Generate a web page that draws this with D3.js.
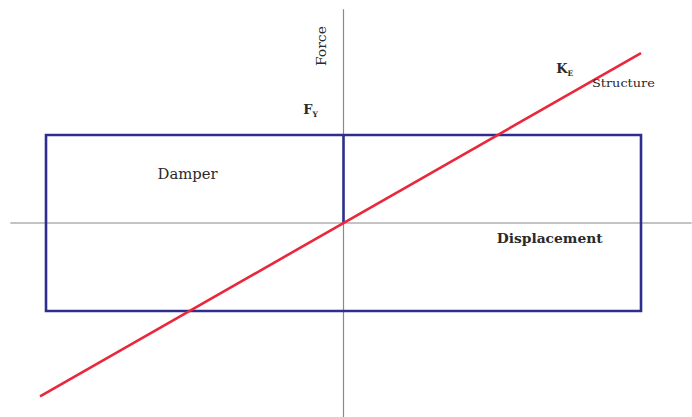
<!DOCTYPE html>
<html><head><meta charset="utf-8">
<script src="https://cdn.jsdelivr.net/npm/d3@7"></script>
<style>body{margin:0;background:#fff}svg{display:block}text{font-family:"DejaVu Serif","Liberation Serif",serif;fill:#2a2a2a}</style>
</head><body><svg id="c" width="692" height="417"></svg>
<script>
// Data (normalized units: displacement / yield displacement, force / Fy)
const damperLoop = [[-1,1],[1,1],[1,-1],[-1,-1]];        // rigid-plastic damper loop corners
const damperRise = [[0,0],[0,1]];                          // elastic rise at origin
const structureLine = [[-1.02,-1.97],[1.0,1.93]];          // structure stiffness K_E
const axisX = [-1.12, 1.17];
const axisY = [-2.22, 2.43];

const svg = d3.select("#c");
const x = d3.scaleLinear().domain([-1,1]).range([46,641]);
const y = d3.scaleLinear().domain([-1,1]).range([311,135]);
const line = d3.line().x(d=>x(d[0])).y(d=>y(d[1]));

// axes
svg.append("line").attr("x1",x(axisX[0])).attr("x2",x(axisX[1])).attr("y1",y(0)).attr("y2",y(0))
  .attr("stroke","#8a8a8a").attr("stroke-width",1.2);
svg.append("line").attr("x1",x(0)).attr("x2",x(0)).attr("y1",y(axisY[1])).attr("y2",y(axisY[0]))
  .attr("stroke","#8a8a8a").attr("stroke-width",1.2);

// damper loop
svg.append("path").attr("d",line(damperLoop)+"Z").attr("fill","none")
  .attr("stroke","#2e2e8c").attr("stroke-width",2.6);
svg.append("path").attr("d",line(damperRise)).attr("fill","none")
  .attr("stroke","#2e2e8c").attr("stroke-width",2.6);

// structure line
svg.append("path").attr("d",line(structureLine)).attr("fill","none")
  .attr("stroke","#e8283c").attr("stroke-width",2.6);

// labels
svg.append("text").attr("transform",`translate(${x(-0.06)},${y(2.01)}) rotate(-90)`)
  .attr("text-anchor","middle").attr("font-size",13).attr("textLength",40).attr("lengthAdjust","spacingAndGlyphs").text("Force");
const fy = svg.append("text").attr("x",x(-0.135)).attr("y",y(1.24)).attr("font-size",13).attr("font-weight","bold");
fy.append("tspan").text("F");
fy.append("tspan").attr("font-size",7.5).attr("dy",3).text("Y");
const ke = svg.append("text").attr("x",x(0.715)).attr("y",y(1.7)).attr("font-size",13).attr("font-weight","bold");
ke.append("tspan").text("K");
ke.append("tspan").attr("font-size",7.5).attr("dy",3).text("E");
svg.append("text").attr("x",x(0.835)).attr("y",y(1.55)).attr("font-size",11.5)
  .attr("textLength",63).attr("lengthAdjust","spacingAndGlyphs").text("Structure");
svg.append("text").attr("x",x(-0.625)).attr("y",y(0.5)).attr("font-size",14)
  .attr("textLength",60).attr("lengthAdjust","spacingAndGlyphs").text("Damper");
svg.append("text").attr("x",x(0.515)).attr("y",y(-0.23)).attr("font-size",13.5).attr("font-weight","bold")
  .attr("textLength",106).attr("lengthAdjust","spacingAndGlyphs").text("Displacement");
</script></body></html>
